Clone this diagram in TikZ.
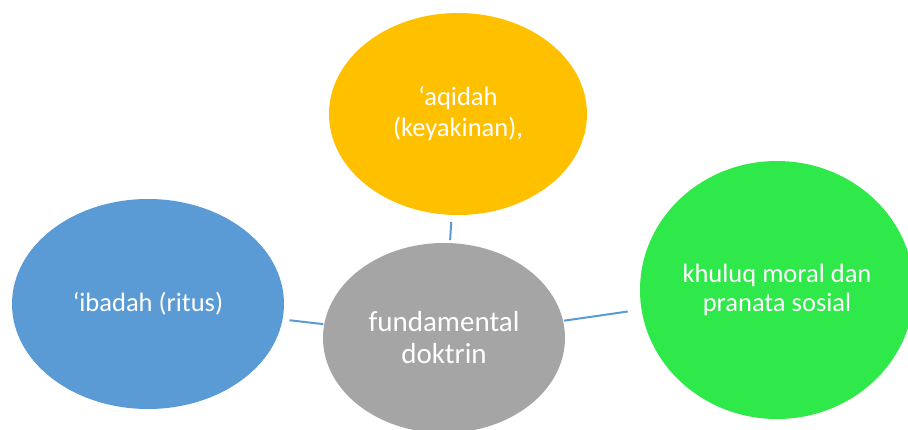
\documentclass[tikz,border=0pt]{standalone}
\usepackage{fontspec}
\setmainfont{Carlito}
\usetikzlibrary{shapes.geometric}
\definecolor{cyellow}{HTML}{FFC000}
\definecolor{cblue}{HTML}{5B9BD5}
\definecolor{cgray}{HTML}{A5A5A5}
\definecolor{cgreen}{HTML}{2FE94B}
\definecolor{cline}{HTML}{5B9BD5}
\tikzset{
  bubble/.style={ellipse, inner sep=0pt, outer sep=0pt, draw=none, text=white, align=center},
  link/.style={draw=cline, line width=2pt}
}
\begin{document}
\begin{tikzpicture}[x=1pt,y=-1pt]
\useasboundingbox (0,0) rectangle (908,430);
\clip (0,0) rectangle (908,430);
\node[bubble, fill=cyellow, minimum width=258pt, minimum height=202pt,
  font=\fontsize{26.5}{31}\selectfont] (aqidah) at (458,114) {‘aqidah\\(keyakinan),};
\node[bubble, fill=cblue, minimum width=272pt, minimum height=210pt,
  font=\fontsize{26.5}{31}\selectfont] (ibadah) at (148,304) {‘ibadah (ritus)};
\node[bubble, fill=cgreen, minimum width=274pt, minimum height=258pt,
  font=\fontsize{26.5}{29}\selectfont] (khuluq) at (777,290) {khuluq moral dan\\pranata sosial};
\node[bubble, fill=cgray, minimum width=242pt, minimum height=190pt,
  font=\fontsize{29}{32}\selectfont] (fund) at (444,338) {fundamental\\doktrin};
\draw[link, shorten <=3pt, shorten >=7pt] (fund) -- (aqidah);
\draw[link, shorten <=1pt, shorten >=7pt] (fund) -- (ibadah);
\draw[link, shorten <=1pt, shorten >=14pt] (fund) -- (khuluq);
\end{tikzpicture}
\end{document}
